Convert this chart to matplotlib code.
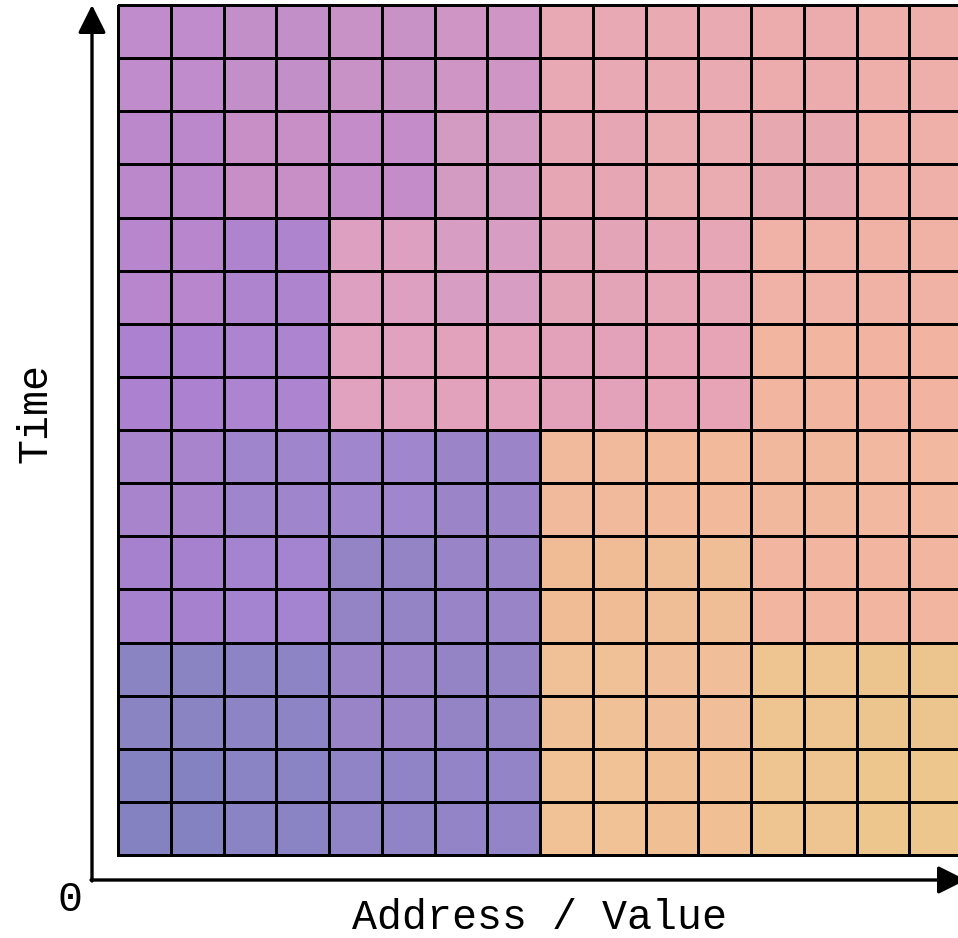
import numpy as np
import matplotlib.pyplot as plt
from matplotlib.colors import to_rgb

# colour of each 2x2 block of cells, top row first (8 x 8 blocks -> 16 x 16 cells)
block_colors = [
    ['#C08CCB', '#C38FC8', '#C992C6', '#CF95C4', '#E8A8B4', '#EAAAB2', '#ECACAE', '#EEAEAA'],
    ['#BB88CB', '#C88FC6', '#C48CC8', '#D39AC2', '#E6A6B4', '#EAACB0', '#E8A8B0', '#EEB0A8'],
    ['#B786CD', '#AE84CF', '#DDA0C0', '#D89DC2', '#E4A4B8', '#E6A6B6', '#F0B2A6', '#F0B2A4'],
    ['#AC82D0', '#AC84D0', '#E0A2BE', '#E2A2BC', '#E4A2BA', '#E6A4B6', '#F2B6A0', '#F2B4A0'],
    ['#A884CC', '#9F86CC', '#A086CC', '#9C84C8', '#F2BA9C', '#F2BA9A', '#F2B89E', '#F2B8A0'],
    ['#A682CE', '#A484D0', '#9484C6', '#9884C6', '#F0BC96', '#F0BE96', '#F2B6A0', '#F2B6A0'],
    ['#8A84C2', '#8C84C4', '#9A84C8', '#9484C6', '#F0C096', '#F0BE98', '#EEC490', '#ECC48E'],
    ['#8482C0', '#8A84C4', '#9084C6', '#9284C6', '#F0C296', '#F0C094', '#EEC490', '#ECC68C'],
]

x_label = 'Address / Value'
y_label = 'Time'
origin_label = '0'

W, H = 958, 938
font = ['Liberation Mono', 'DejaVu Sans Mono']

rgb = np.array([[to_rgb(c) for c in row] for row in block_colors])
cells = np.repeat(np.repeat(rgb, 2, axis=0), 2, axis=1)
n_rows, n_cols = cells.shape[:2]

fig = plt.figure(figsize=(W / 100, H / 100), dpi=100)

# memory grid
grid_ax = fig.add_axes([118 / W, (H - 855) / H, n_cols * 52.75 / W, 850 / H])
mesh = grid_ax.pcolormesh(np.arange(n_cols + 1), np.arange(n_rows + 1), cells,
                          edgecolors='black', linewidth=2.0)
mesh.set_clip_on(False)
grid_ax.set_xlim(0, n_cols)
grid_ax.set_ylim(n_rows, 0)
grid_ax.axis('off')

# overlay in pixel units for the arrows and labels
ov = fig.add_axes([0, 0, 1, 1])
ov.set_xlim(0, W)
ov.set_ylim(H, 0)
ov.axis('off')
ov.patch.set_alpha(0)

arrow = dict(arrowstyle='-|>,head_length=1.0,head_width=0.5', mutation_scale=17,
             lw=2.4, color='black', shrinkA=0, shrinkB=0)
ov.annotate('', xy=(92, 5), xytext=(92, 881), arrowprops=arrow,
            annotation_clip=False)
ov.annotate('', xy=(966, 880), xytext=(91, 880), arrowprops=arrow,
            annotation_clip=False)

ov.text(540, 929, x_label, ha='center', va='baseline', fontsize=30, family=font)
ov.text(47, 413, y_label, ha='center', va='baseline', rotation=90,
        rotation_mode='anchor', fontsize=30, family=font)
ov.text(70, 911, origin_label, ha='center', va='baseline', fontsize=30, family=font)

fig.savefig('out.png', dpi=100)
